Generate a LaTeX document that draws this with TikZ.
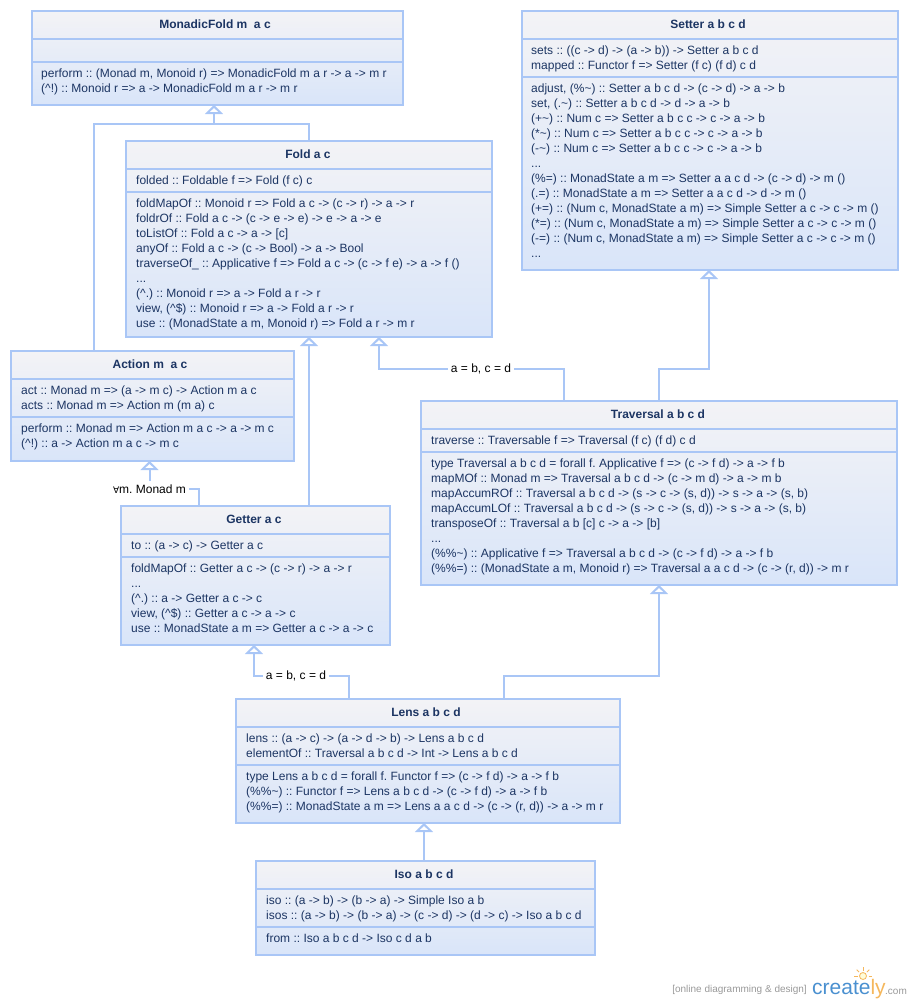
\documentclass[tikz,border=0pt]{standalone}
\usepackage{fontspec}
\setmainfont{Liberation Sans}
\newfontfamily\symbolfont{DejaVu Sans}
\usetikzlibrary{arrows.meta}
\definecolor{umlblue}{HTML}{A9C6F6}
\definecolor{umlink}{HTML}{1C3563}
\definecolor{umltop}{HTML}{F3F3F6}
\definecolor{umlbottom}{HTML}{D9E5F9}
\definecolor{logoblue}{HTML}{4A90D0}
\definecolor{logoorange}{HTML}{F5B75C}
\frenchspacing
\tikzset{
  umlbox/.style={draw=umlblue,line width=2pt,top color=umltop,bottom color=umlbottom,
    anchor=north west,inner sep=0pt,outer sep=0pt},
  umlline/.style={draw=umlblue,line width=2pt},
  isa/.style={umlline,-{Triangle[open,length=9pt,width=18pt,fill=white]}},
  umltitle/.style={text=umlink,font=\fontsize{12}{15}\selectfont\bfseries,inner sep=0pt},
  umltext/.style={text=umlink,font=\fontsize{12}{15}\selectfont,align=left,anchor=north west,inner sep=0pt},
  edgelabel/.style={text=black,font=\fontsize{12}{15}\selectfont,inner sep=3pt},
  logoray/.style={draw=logoorange,line width=0.8pt}
}
\begin{document}
\begin{tikzpicture}[x=1pt,y=-1pt]
  \useasboundingbox (0,0) rectangle (911,1005);

  % MonadicFold
  \node (MonadicFold) [umlbox,minimum width=371pt,minimum height=94pt] at (32,11) {};
  \node (MonadicFoldName) [umltitle] at (215,24) {MonadicFold m\ \ a c};
  \draw[umlline] (MonadicFold.west |- 0,39) -- (MonadicFold.east |- 0,39);
  \draw[umlline] (MonadicFold.west |- 0,62) -- (MonadicFold.east |- 0,62);
  \node (MonadicFoldOps) [umltext] at (41,69) {perform :: (Monad m, Monoid r) => MonadicFold m a r -> a -> m r\\
    (\textasciicircum!) :: Monoid r => a -> MonadicFold m a r -> m r};

  % Setter
  \node (Setter) [umlbox,minimum width=376pt,minimum height=259pt] at (522,11) {};
  \node (SetterName) [umltitle] at (708,24) {Setter a b c d};
  \draw[umlline] (Setter.west |- 0,39) -- (Setter.east |- 0,39);
  \draw[umlline] (Setter.west |- 0,77) -- (Setter.east |- 0,77);
  \node (SetterAttrs) [umltext] at (531,46) {sets :: ((c -> d) -> (a -> b)) -> Setter a b c d\\
    mapped :: Functor f => Setter (f c) (f d) c d};
  \node (SetterOps) [umltext] at (531,84) {adjust, (\%\textasciitilde) :: Setter a b c d -> (c -> d) -> a -> b\\
    set, (.\textasciitilde) :: Setter a b c d -> d -> a -> b\\
    (+\textasciitilde) :: Num c => Setter a b c c -> c -> a -> b\\
    (*\textasciitilde) :: Num c => Setter a b c c -> c -> a -> b\\
    (-\textasciitilde) :: Num c => Setter a b c c -> c -> a -> b\\
    ...\\
    (\%=) :: MonadState a m => Setter a a c d -> (c -> d) -> m ()\\
    (.=) :: MonadState a m => Setter a a c d -> d -> m ()\\
    (+=) :: (Num c, MonadState a m) => Simple Setter a c -> c -> m ()\\
    (*=) :: (Num c, MonadState a m) => Simple Setter a c -> c -> m ()\\
    (-=) :: (Num c, MonadState a m) => Simple Setter a c -> c -> m ()\\
    ...};

  % Fold
  \node (Fold) [umlbox,minimum width=366pt,minimum height=196pt] at (126,141) {};
  \node (FoldName) [umltitle] at (308,154) {Fold a c};
  \draw[umlline] (Fold.west |- 0,169) -- (Fold.east |- 0,169);
  \draw[umlline] (Fold.west |- 0,192) -- (Fold.east |- 0,192);
  \node (FoldAttrs) [umltext] at (136,176) {folded :: Foldable f => Fold (f c) c};
  \node (FoldOps) [umltext] at (136,199) {foldMapOf :: Monoid r => Fold a c -> (c -> r) -> a -> r\\
    foldrOf :: Fold a c -> (c -> e -> e) -> e -> a -> e\\
    toListOf :: Fold a c -> a -> [c]\\
    anyOf :: Fold a c -> (c -> Bool) -> a -> Bool\\
    traverseOf\_ :: Applicative f => Fold a c -> (c -> f e) -> a -> f ()\\
    ...\\
    (\textasciicircum.) :: Monoid r => a -> Fold a r -> r\\
    view, (\textasciicircum\$) :: Monoid r => a -> Fold a r -> r\\
    use :: (MonadState a m, Monoid r) => Fold a r -> m r};

  % Action
  \node (Action) [umlbox,minimum width=283pt,minimum height=110pt] at (11,351) {};
  \node (ActionName) [umltitle] at (150,364) {Action m\ \ a c};
  \draw[umlline] (Action.west |- 0,379) -- (Action.east |- 0,379);
  \draw[umlline] (Action.west |- 0,417) -- (Action.east |- 0,417);
  \node (ActionAttrs) [umltext] at (21,386) {act :: Monad m => (a -> m c) -> Action m a c\\
    acts :: Monad m => Action m (m a) c};
  \node (ActionOps) [umltext] at (21,424) {perform :: Monad m => Action m a c -> a -> m c\\
    (\textasciicircum!) :: a -> Action m a c -> m c};

  % Traversal
  \node (Traversal) [umlbox,minimum width=476pt,minimum height=184pt] at (421,401) {};
  \node (TraversalName) [umltitle] at (658,414) {Traversal a b c d};
  \draw[umlline] (Traversal.west |- 0,429) -- (Traversal.east |- 0,429);
  \draw[umlline] (Traversal.west |- 0,452) -- (Traversal.east |- 0,452);
  \node (TraversalAttrs) [umltext] at (431,436) {traverse :: Traversable f => Traversal (f c) (f d) c d};
  \node (TraversalOps) [umltext] at (431,459) {type Traversal a b c d = forall f. Applicative f => (c -> f d) -> a -> f b\\
    mapMOf :: Monad m => Traversal a b c d -> (c -> m d) -> a -> m b\\
    mapAccumROf :: Traversal a b c d -> (s -> c -> (s, d)) -> s -> a -> (s, b)\\
    mapAccumLOf :: Traversal a b c d -> (s -> c -> (s, d)) -> s -> a -> (s, b)\\
    transposeOf :: Traversal a b [c] c -> a -> [b]\\
    ...\\
    (\%\%\textasciitilde) :: Applicative f => Traversal a b c d -> (c -> f d) -> a -> f b\\
    (\%\%=) :: (MonadState a m, Monoid r) => Traversal a a c d -> (c -> (r, d)) -> m r};

  % Getter
  \node (Getter) [umlbox,minimum width=269pt,minimum height=139pt] at (121,506) {};
  \node (GetterName) [umltitle] at (254,519) {Getter a c};
  \draw[umlline] (Getter.west |- 0,534) -- (Getter.east |- 0,534);
  \draw[umlline] (Getter.west |- 0,557) -- (Getter.east |- 0,557);
  \node (GetterAttrs) [umltext] at (131,541) {to :: (a -> c) -> Getter a c};
  \node (GetterOps) [umltext] at (131,564) {foldMapOf :: Getter a c -> (c -> r) -> a -> r\\
    ...\\
    (\textasciicircum.) :: a -> Getter a c -> c\\
    view, (\textasciicircum\$) :: Getter a c -> a -> c\\
    use :: MonadState a m => Getter a c -> a -> c};

  % Lens
  \node (Lens) [umlbox,minimum width=384pt,minimum height=124pt] at (236,699) {};
  \node (LensName) [umltitle] at (426,712) {Lens a b c d};
  \draw[umlline] (Lens.west |- 0,727) -- (Lens.east |- 0,727);
  \draw[umlline] (Lens.west |- 0,765) -- (Lens.east |- 0,765);
  \node (LensAttrs) [umltext] at (246,734) {lens :: (a -> c) -> (a -> d -> b) -> Lens a b c d\\
    elementOf :: Traversal a b c d -> Int -> Lens a b c d};
  \node (LensOps) [umltext] at (246,772) {type Lens a b c d = forall f. Functor f => (c -> f d) -> a -> f b\\
    (\%\%\textasciitilde) :: Functor f => Lens a b c d -> (c -> f d) -> a -> f b\\
    (\%\%=) :: MonadState a m => Lens a a c d -> (c -> (r, d)) -> a -> m r};

  % Iso
  \node (Iso) [umlbox,minimum width=339pt,minimum height=94pt] at (256,861) {};
  \node (IsoName) [umltitle] at (424,874) {Iso a b c d};
  \draw[umlline] (Iso.west |- 0,889) -- (Iso.east |- 0,889);
  \draw[umlline] (Iso.west |- 0,927) -- (Iso.east |- 0,927);
  \node (IsoAttrs) [umltext] at (266,896) {iso :: (a -> b) -> (b -> a) -> Simple Iso a b\\
    isos :: (a -> b) -> (b -> a) -> (c -> d) -> (d -> c) -> Iso a b c d};
  \node (IsoOps) [umltext] at (266,934) {from :: Iso a b c d -> Iso c d a b};

  % labels on the connectors
  \node (foldEq) [edgelabel] at (481,369) {a = b, c = d};
  \node (actionAll) [edgelabel] at (149.5,489) {{\symbolfont\fontsize{9}{15}\selectfont ∀}m. Monad m};
  \node (getterEq) [edgelabel] at (296,676) {a = b, c = d};

  % connectors
  \coordinate (mfJoin) at (214,124);
  \coordinate (setterJoin) at (709,369);
  \coordinate (lensJoin) at (659,676);
  \draw[isa] (Fold.north) |- (mfJoin) -- (MonadicFold.south -| mfJoin);
  \draw[umlline] (Action.north -| 94,0) |- (mfJoin);
  \draw[isa] (Getter.north -| Fold.north) -- (Fold.south);
  \draw[umlline] (Traversal.north -| 564,0) |- (foldEq.east);
  \draw[isa] (foldEq.west) -| (Fold.south -| 379,0);
  \draw[isa] (Traversal.north) |- (setterJoin) -- (Setter.south -| setterJoin);
  \draw[umlline] (Getter.north -| 199,0) |- (actionAll.east);
  \draw[isa] (actionAll.north) -- (Action.south -| actionAll.north);
  \draw[umlline] (Lens.north -| 349,0) |- (getterEq.east);
  \draw[isa] (getterEq.west) -| (Getter.south -| 254,0);
  \draw[isa] (Lens.north -| 504,0) |- (lensJoin) -- (Traversal.south -| lensJoin);
  \draw[isa] (Iso.north -| 424,0) -- (Lens.south -| 424,0);

  % logo
  \draw[logoray,fill=yellow!15] (863,976) circle (3.5pt);
  \foreach \a in {0,45,...,180}
    \draw[logoray] (863,976) ++(\a:5.5pt) -- ++(\a:3.5pt);
  \node (logoNote) [anchor=east,inner sep=0pt,text=gray!80,font=\fontsize{10}{12}\selectfont] at (807,990) {[online diagramming \& design]};
  \node (logoName) [anchor=base west,inner sep=0pt,text=logoblue,font=\fontsize{21}{24}\selectfont] at (812,994) {create\textcolor{logoorange}{ly}};
  \node (logoCom) [anchor=base west,inner sep=0pt,text=gray!80,font=\fontsize{10}{12}\selectfont] at (885,994) {.com};
\end{tikzpicture}
\end{document}
